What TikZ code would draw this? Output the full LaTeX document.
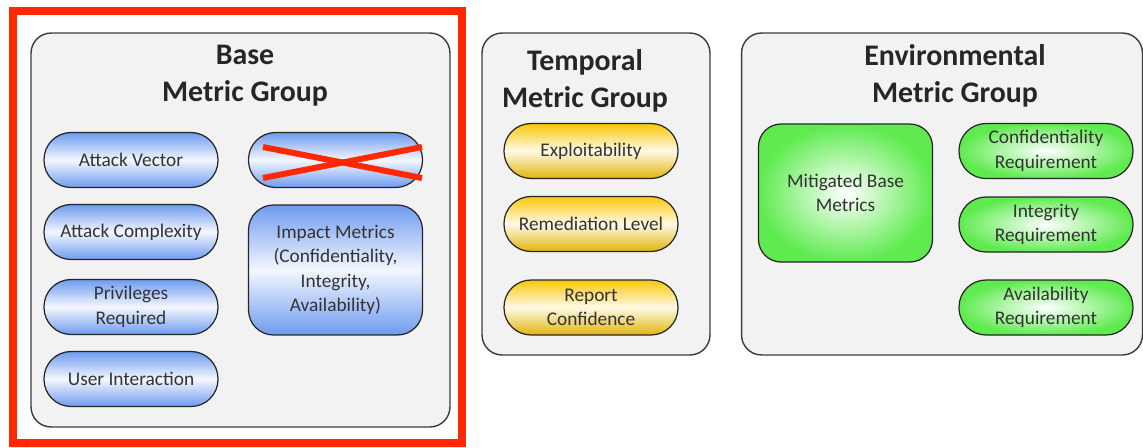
\documentclass[tikz,border=0pt]{standalone}
\usepackage{fontspec}
\setmainfont{Carlito}
\usetikzlibrary{positioning}

\definecolor{boxgray}{RGB}{242,242,242}
\definecolor{edgegray}{RGB}{60,60,60}
\definecolor{pillblue}{RGB}{110,155,240}
\definecolor{pillgold}{RGB}{250,200,10}
\definecolor{pillgreen}{RGB}{95,235,80}
\definecolor{markred}{RGB}{255,40,0}

\begin{document}
\begin{tikzpicture}
	[x=0.02cm, y=-0.02cm,
	group/.style={draw=edgegray, line width=0.8pt, fill=boxgray, rounded corners=0.4cm},
	title/.style={font=\fontsize{17}{21}\selectfont\bfseries, align=center, text=black!85},
	pill/.style={draw=black!85, line width=0.7pt, rounded corners=0.54cm, minimum width=3.48cm, minimum height=1.1cm, align=center, font=\fontsize{11}{14}\selectfont, text=black!80, inner sep=1pt},
	blue/.style={pill, top color=pillblue, bottom color=pillblue, middle color=pillblue!8},
	gold/.style={pill, top color=pillgold, bottom color=pillgold!90!black, middle color=pillgold!10},
	green/.style={pill, inner color=white, outer color=pillgreen},
	cross/.style={draw=markred, line width=3.4pt}]
	\useasboundingbox (0,0) rectangle (1143,447);

	% base group
	\node (base) [group, minimum width=8.38cm, minimum height=7.88cm] at (240.5,230) {};
	\node (basetitle) [title] at (245,76) {Base\\Metric Group};
	\node (av) [blue] at (131,160) {Attack Vector};
	\node (ac) [blue] at (131,232) {Attack Complexity};
	\node (pr) [blue] at (131,307) {Privileges\\Required};
	\node (ui) [blue] at (131,379) {User Interaction};
	\node (scope) [blue] at (335.5,160) {};
	\node (impact) [blue, minimum height=2.6cm, rounded corners=0.5cm] at (335.5,270) {Impact Metrics\\(Confidentiality,\\Integrity,\\Availability)};
	\draw [cross] (263,147) -- (422,178);
	\draw [cross] (263,178) -- (422,147);
	\draw [draw=markred, line width=4.5pt] (13,11) rectangle (462,443);

	% temporal group
	\node (temp) [group, minimum width=4.56cm, minimum height=6.44cm] at (596,194) {};
	\node (temptitle) [title] at (585,81) {Temporal\\Metric Group};
	\node (expl) [gold] at (591,151) {Exploitability};
	\node (reme) [gold] at (591,224) {Remediation Level};
	\node (repo) [gold] at (591,307.5) {Report\\Confidence};

	% environmental group
	\node (env) [group, minimum width=8.02cm, minimum height=6.44cm] at (942,194) {};
	\node (envtitle) [title] at (955,76) {Environmental\\Metric Group};
	\node (mbm) [green, minimum height=2.76cm, rounded corners=0.45cm] at (845.5,193) {Mitigated Base\\Metrics};
	\node (cr) [green] at (1046,151) {Confidentiality\\Requirement};
	\node (ir) [green] at (1046,224.5) {Integrity\\Requirement};
	\node (ar) [green] at (1046,307.5) {Availability\\Requirement};
\end{tikzpicture}
\end{document}
